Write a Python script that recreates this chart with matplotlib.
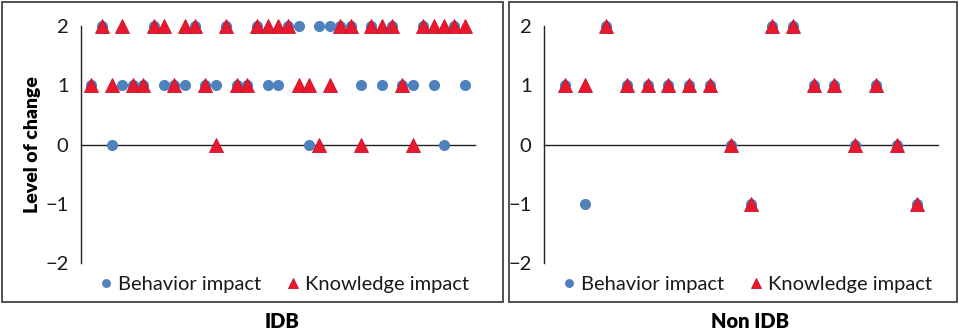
import matplotlib.pyplot as plt
from matplotlib.patches import Rectangle

plt.rcParams['font.family'] = ['Lato', 'DejaVu Sans']

# IDB group: one value per participant
idb_behavior = [1, 2, 0, 1, 1, 1, 2, 1, 1, 1, 2, 1, 1, 2, 1, 1, 2, 1, 1,
                2, 2, 0, 2, 2, 2, 2, 1, 2, 1, 2, 1, 1, 2, 1, 0, 2, 1]
idb_knowledge = [1, 2, 1, 2, 1, 1, 2, 2, 1, 2, 2, 1, 0, 2, 1, 1, 2, 2, 2,
                 2, 1, 1, 0, 1, 2, 2, 0, 2, 2, 2, 1, 0, 2, 2, 2, 2, 2]

# Non IDB group
non_behavior = [1, -1, 2, 1, 1, 1, 1, 1, 0, -1, 2, 2, 1, 1, 0, 1, 0, -1]
non_knowledge = [1, 1, 2, 1, 1, 1, 1, 1, 0, -1, 2, 2, 1, 1, 0, 1, 0, -1]

panel_titles = ['IDB', 'Non IDB']
y_ticks = [-2, -1, 0, 1, 2]

blue = '#4F81BD'
red = '#E8192C'

fig = plt.figure(figsize=(9.59, 3.34), dpi=100)

ax1 = fig.add_axes([81 / 959, 71 / 334, 394 / 959, 237 / 334])
ax2 = fig.add_axes([544 / 959, 71 / 334, 394 / 959, 237 / 334])

for ax, beh, kno in [(ax1, idb_behavior, idb_knowledge), (ax2, non_behavior, non_knowledge)]:
    x = list(range(1, len(beh) + 1))
    ax.plot(x, beh, 'o', color=blue, markersize=8, markeredgewidth=0,
            clip_on=False, label='Behavior impact', zorder=3)
    ax.plot(x, kno, '^', color=red, markersize=9.5, markeredgecolor='#C8102E',
            markeredgewidth=0.6, clip_on=False, label='Knowledge impact', zorder=4)
    ax.set_xlim(0, len(beh) + 1)
    ax.set_ylim(-2, 2)
    ax.set_yticks(y_ticks)
    ax.set_yticklabels(['\u22122', '\u22121', '0', '1', '2'])
    ax.set_xticks([])
    ax.tick_params(axis='y', length=0, pad=9, labelsize=14.5, colors='#1a1a1a')
    for s in ['top', 'right']:
        ax.spines[s].set_visible(False)
    ax.spines['bottom'].set_position(('data', 0))
    ax.spines['left'].set_color('#222222')
    ax.spines['bottom'].set_color('#222222')
    ax.spines['left'].set_linewidth(1.0)
    ax.spines['bottom'].set_linewidth(1.0)
    ax.patch.set_alpha(0)
    leg = ax.legend(loc='upper center', bbox_to_anchor=(0.51, 0.02), ncol=2, frameon=False,
                    fontsize=14.5, handletextpad=0.05, columnspacing=1.0, markerscale=0.8,
                    handlelength=1.1)
    for t in leg.get_texts():
        t.set_color('#1a1a1a')

ax1.set_ylabel('Level of change', fontsize=14, fontweight='heavy', labelpad=3)

fig.text(282 / 959, 1 - 322 / 334, panel_titles[0], ha='center', va='center',
         fontsize=14.5, fontweight='heavy')
fig.text(750 / 959, 1 - 322 / 334, panel_titles[1], ha='center', va='center',
         fontsize=14.5, fontweight='heavy')

# panel frames
fig.patches.append(Rectangle((2 / 959, 32 / 334), 501 / 959, 300 / 334,
                             transform=fig.transFigure, fill=False,
                             edgecolor='#333333', linewidth=1.2))
fig.patches.append(Rectangle((509 / 959, 32 / 334), 448 / 959, 300 / 334,
                             transform=fig.transFigure, fill=False,
                             edgecolor='#333333', linewidth=1.2))

fig.savefig('out.png', dpi=100)
